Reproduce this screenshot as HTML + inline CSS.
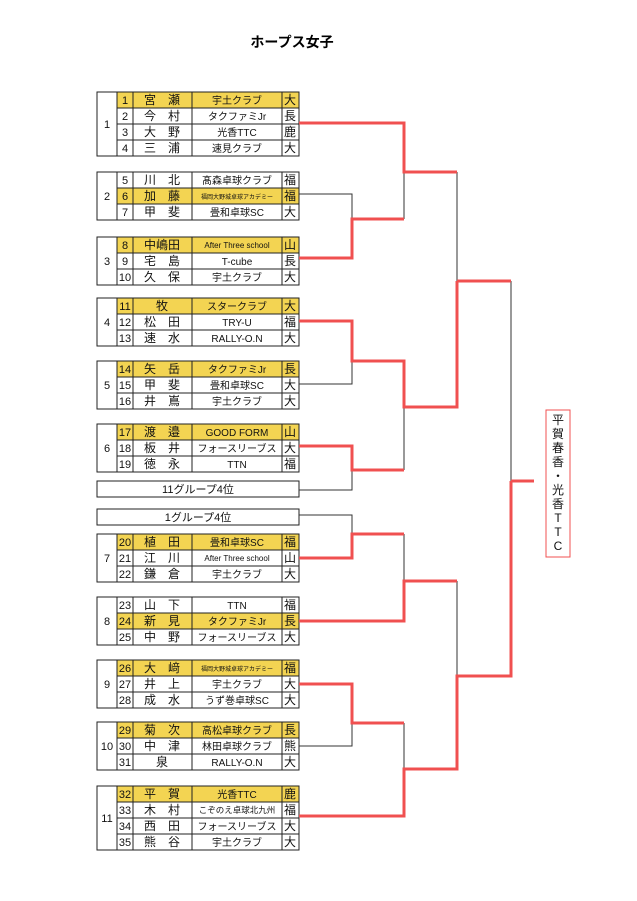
<!DOCTYPE html>
<html><head><meta charset="utf-8"><style>
html,body{margin:0;padding:0;background:#fff;}
svg{display:block;font-family:"Liberation Sans","Noto Sans CJK JP",sans-serif;}
</style></head><body>
<svg width="637" height="901" viewBox="0 0 637 901" xmlns="http://www.w3.org/2000/svg">
<rect width="637" height="901" fill="#fff"/>
<text x="292" y="47" font-size="14" font-weight="bold" text-anchor="middle">ホープス女子</text>
<g stroke="#222" stroke-width="1" font-size="11" fill="none">
<rect x="97" y="92" width="202" height="64"/>
<rect x="117" y="92" width="182" height="16" fill="#f3d452"/>
<line x1="117" y1="92" x2="117" y2="156"/><line x1="133" y1="92" x2="133" y2="156"/><line x1="192" y1="92" x2="192" y2="156"/><line x1="282" y1="92" x2="282" y2="156"/>
<line x1="117" y1="108" x2="299" y2="108"/><line x1="117" y1="124" x2="299" y2="124"/><line x1="117" y1="140" x2="299" y2="140"/>
<rect x="97" y="172" width="202" height="48"/>
<rect x="117" y="188" width="182" height="16" fill="#f3d452"/>
<line x1="117" y1="172" x2="117" y2="220"/><line x1="133" y1="172" x2="133" y2="220"/><line x1="192" y1="172" x2="192" y2="220"/><line x1="282" y1="172" x2="282" y2="220"/>
<line x1="117" y1="188" x2="299" y2="188"/><line x1="117" y1="204" x2="299" y2="204"/>
<rect x="97" y="237" width="202" height="48"/>
<rect x="117" y="237" width="182" height="16" fill="#f3d452"/>
<line x1="117" y1="237" x2="117" y2="285"/><line x1="133" y1="237" x2="133" y2="285"/><line x1="192" y1="237" x2="192" y2="285"/><line x1="282" y1="237" x2="282" y2="285"/>
<line x1="117" y1="253" x2="299" y2="253"/><line x1="117" y1="269" x2="299" y2="269"/>
<rect x="97" y="298" width="202" height="48"/>
<rect x="117" y="298" width="182" height="16" fill="#f3d452"/>
<line x1="117" y1="298" x2="117" y2="346"/><line x1="133" y1="298" x2="133" y2="346"/><line x1="192" y1="298" x2="192" y2="346"/><line x1="282" y1="298" x2="282" y2="346"/>
<line x1="117" y1="314" x2="299" y2="314"/><line x1="117" y1="330" x2="299" y2="330"/>
<rect x="97" y="361" width="202" height="48"/>
<rect x="117" y="361" width="182" height="16" fill="#f3d452"/>
<line x1="117" y1="361" x2="117" y2="409"/><line x1="133" y1="361" x2="133" y2="409"/><line x1="192" y1="361" x2="192" y2="409"/><line x1="282" y1="361" x2="282" y2="409"/>
<line x1="117" y1="377" x2="299" y2="377"/><line x1="117" y1="393" x2="299" y2="393"/>
<rect x="97" y="424" width="202" height="48"/>
<rect x="117" y="424" width="182" height="16" fill="#f3d452"/>
<line x1="117" y1="424" x2="117" y2="472"/><line x1="133" y1="424" x2="133" y2="472"/><line x1="192" y1="424" x2="192" y2="472"/><line x1="282" y1="424" x2="282" y2="472"/>
<line x1="117" y1="440" x2="299" y2="440"/><line x1="117" y1="456" x2="299" y2="456"/>
<rect x="97" y="481" width="202" height="16"/>
<rect x="97" y="509" width="202" height="16"/>
<rect x="97" y="534" width="202" height="48"/>
<rect x="117" y="534" width="182" height="16" fill="#f3d452"/>
<line x1="117" y1="534" x2="117" y2="582"/><line x1="133" y1="534" x2="133" y2="582"/><line x1="192" y1="534" x2="192" y2="582"/><line x1="282" y1="534" x2="282" y2="582"/>
<line x1="117" y1="550" x2="299" y2="550"/><line x1="117" y1="566" x2="299" y2="566"/>
<rect x="97" y="597" width="202" height="48"/>
<rect x="117" y="613" width="182" height="16" fill="#f3d452"/>
<line x1="117" y1="597" x2="117" y2="645"/><line x1="133" y1="597" x2="133" y2="645"/><line x1="192" y1="597" x2="192" y2="645"/><line x1="282" y1="597" x2="282" y2="645"/>
<line x1="117" y1="613" x2="299" y2="613"/><line x1="117" y1="629" x2="299" y2="629"/>
<rect x="97" y="660" width="202" height="48"/>
<rect x="117" y="660" width="182" height="16" fill="#f3d452"/>
<line x1="117" y1="660" x2="117" y2="708"/><line x1="133" y1="660" x2="133" y2="708"/><line x1="192" y1="660" x2="192" y2="708"/><line x1="282" y1="660" x2="282" y2="708"/>
<line x1="117" y1="676" x2="299" y2="676"/><line x1="117" y1="692" x2="299" y2="692"/>
<rect x="97" y="722" width="202" height="48"/>
<rect x="117" y="722" width="182" height="16" fill="#f3d452"/>
<line x1="117" y1="722" x2="117" y2="770"/><line x1="133" y1="722" x2="133" y2="770"/><line x1="192" y1="722" x2="192" y2="770"/><line x1="282" y1="722" x2="282" y2="770"/>
<line x1="117" y1="738" x2="299" y2="738"/><line x1="117" y1="754" x2="299" y2="754"/>
<rect x="97" y="786" width="202" height="64"/>
<rect x="117" y="786" width="182" height="16" fill="#f3d452"/>
<line x1="117" y1="786" x2="117" y2="850"/><line x1="133" y1="786" x2="133" y2="850"/><line x1="192" y1="786" x2="192" y2="850"/><line x1="282" y1="786" x2="282" y2="850"/>
<line x1="117" y1="802" x2="299" y2="802"/><line x1="117" y1="818" x2="299" y2="818"/><line x1="117" y1="834" x2="299" y2="834"/>
</g>

<g font-size="11" fill="#111" text-anchor="middle">
<text x="107" y="128">1</text><text x="107" y="200">2</text><text x="107" y="265">3</text><text x="107" y="326">4</text><text x="107" y="389">5</text><text x="107" y="452">6</text><text x="107" y="562">7</text><text x="107" y="625">8</text><text x="107" y="688">9</text><text x="107" y="750">10</text><text x="107" y="822">11</text>
<text x="198" y="493">11グループ4位</text>
<text x="198" y="521">1グループ4位</text>
</g>
<g font-size="11" fill="#111" text-anchor="middle">
<g>
<text x="125" y="104">1</text><text x="162" y="104" font-size="12">宮　瀬</text><text x="237" y="104" font-size="10">宇土クラブ</text><text x="290" y="104" font-size="12">大</text>
<text x="125" y="120">2</text><text x="162" y="120" font-size="12">今　村</text><text x="237" y="120" font-size="10">タクファミJr</text><text x="290" y="120" font-size="12">長</text>
<text x="125" y="136">3</text><text x="162" y="136" font-size="12">大　野</text><text x="237" y="136" font-size="10">光香TTC</text><text x="290" y="136" font-size="12">鹿</text>
<text x="125" y="152">4</text><text x="162" y="152" font-size="12">三　浦</text><text x="237" y="152" font-size="10">速見クラブ</text><text x="290" y="152" font-size="12">大</text>
</g>
<g>
<text x="125" y="184">5</text><text x="162" y="184" font-size="12">川　北</text><text x="237" y="184" font-size="10">髙森卓球クラブ</text><text x="290" y="184" font-size="12">福</text>
<text x="125" y="200">6</text><text x="162" y="200" font-size="12">加　藤</text><text x="237" y="199" font-size="6">福岡大野城卓球アカデミー</text><text x="290" y="200" font-size="12">福</text>
<text x="125" y="216">7</text><text x="162" y="216" font-size="12">甲　斐</text><text x="237" y="216" font-size="10">畳和卓球SC</text><text x="290" y="216" font-size="12">大</text>
</g>
<g>
<text x="125" y="249">8</text><text x="162" y="249" font-size="12">中嶋田</text><text x="237" y="248" font-size="8">After Three school</text><text x="290" y="249" font-size="12">山</text>
<text x="125" y="265">9</text><text x="162" y="265" font-size="12">宅　島</text><text x="237" y="265" font-size="10">T-cube</text><text x="290" y="265" font-size="12">長</text>
<text x="125" y="281">10</text><text x="162" y="281" font-size="12">久　保</text><text x="237" y="281" font-size="10">宇土クラブ</text><text x="290" y="281" font-size="12">大</text>
</g>
<g>
<text x="125" y="310">11</text><text x="162" y="310" font-size="12">牧</text><text x="237" y="310" font-size="10">スタークラブ</text><text x="290" y="310" font-size="12">大</text>
<text x="125" y="326">12</text><text x="162" y="326" font-size="12">松　田</text><text x="237" y="326" font-size="10">TRY-U</text><text x="290" y="326" font-size="12">福</text>
<text x="125" y="342">13</text><text x="162" y="342" font-size="12">速　水</text><text x="237" y="342" font-size="10">RALLY-O.N</text><text x="290" y="342" font-size="12">大</text>
</g>
<g>
<text x="125" y="373">14</text><text x="162" y="373" font-size="12">矢　岳</text><text x="237" y="373" font-size="10">タクファミJr</text><text x="290" y="373" font-size="12">長</text>
<text x="125" y="389">15</text><text x="162" y="389" font-size="12">甲　斐</text><text x="237" y="389" font-size="10">畳和卓球SC</text><text x="290" y="389" font-size="12">大</text>
<text x="125" y="405">16</text><text x="162" y="405" font-size="12">井　嶌</text><text x="237" y="405" font-size="10">宇土クラブ</text><text x="290" y="405" font-size="12">大</text>
</g>
<g>
<text x="125" y="436">17</text><text x="162" y="436" font-size="12">渡　邉</text><text x="237" y="436" font-size="10">GOOD FORM</text><text x="290" y="436" font-size="12">山</text>
<text x="125" y="452">18</text><text x="162" y="452" font-size="12">板　井</text><text x="237" y="452" font-size="10">フォースリーブス</text><text x="290" y="452" font-size="12">大</text>
<text x="125" y="468">19</text><text x="162" y="468" font-size="12">徳　永</text><text x="237" y="468" font-size="10">TTN</text><text x="290" y="468" font-size="12">福</text>
</g>
<g>
<text x="125" y="546">20</text><text x="162" y="546" font-size="12">植　田</text><text x="237" y="546" font-size="10">畳和卓球SC</text><text x="290" y="546" font-size="12">福</text>
<text x="125" y="562">21</text><text x="162" y="562" font-size="12">江　川</text><text x="237" y="561" font-size="8">After Three school</text><text x="290" y="562" font-size="12">山</text>
<text x="125" y="578">22</text><text x="162" y="578" font-size="12">鎌　倉</text><text x="237" y="578" font-size="10">宇土クラブ</text><text x="290" y="578" font-size="12">大</text>
</g>
<g>
<text x="125" y="609">23</text><text x="162" y="609" font-size="12">山　下</text><text x="237" y="609" font-size="10">TTN</text><text x="290" y="609" font-size="12">福</text>
<text x="125" y="625">24</text><text x="162" y="625" font-size="12">新　見</text><text x="237" y="625" font-size="10">タクファミJr</text><text x="290" y="625" font-size="12">長</text>
<text x="125" y="641">25</text><text x="162" y="641" font-size="12">中　野</text><text x="237" y="641" font-size="10">フォースリーブス</text><text x="290" y="641" font-size="12">大</text>
</g>
<g>
<text x="125" y="672">26</text><text x="162" y="672" font-size="12">大　﨑</text><text x="237" y="671" font-size="6">福岡大野城卓球アカデミー</text><text x="290" y="672" font-size="12">福</text>
<text x="125" y="688">27</text><text x="162" y="688" font-size="12">井　上</text><text x="237" y="688" font-size="10">宇土クラブ</text><text x="290" y="688" font-size="12">大</text>
<text x="125" y="704">28</text><text x="162" y="704" font-size="12">成　水</text><text x="237" y="704" font-size="10">うず巻卓球SC</text><text x="290" y="704" font-size="12">大</text>
</g>
<g>
<text x="125" y="734">29</text><text x="162" y="734" font-size="12">菊　次</text><text x="237" y="734" font-size="10">高松卓球クラブ</text><text x="290" y="734" font-size="12">長</text>
<text x="125" y="750">30</text><text x="162" y="750" font-size="12">中　津</text><text x="237" y="750" font-size="10">林田卓球クラブ</text><text x="290" y="750" font-size="12">熊</text>
<text x="125" y="766">31</text><text x="162" y="766" font-size="12">泉</text><text x="237" y="766" font-size="10">RALLY-O.N</text><text x="290" y="766" font-size="12">大</text>
</g>
<g>
<text x="125" y="798">32</text><text x="162" y="798" font-size="12">平　賀</text><text x="237" y="798" font-size="10">光香TTC</text><text x="290" y="798" font-size="12">鹿</text>
<text x="125" y="814">33</text><text x="162" y="814" font-size="12">木　村</text><text x="237" y="813" font-size="8.5">こぞのえ卓球北九州</text><text x="290" y="814" font-size="12">福</text>
<text x="125" y="830">34</text><text x="162" y="830" font-size="12">西　田</text><text x="237" y="830" font-size="10">フォースリーブス</text><text x="290" y="830" font-size="12">大</text>
<text x="125" y="846">35</text><text x="162" y="846" font-size="12">熊　谷</text><text x="237" y="846" font-size="10">宇土クラブ</text><text x="290" y="846" font-size="12">大</text>
</g>
</g>

<g stroke="#333" stroke-width="1" fill="none">
<polyline points="404,172 404,219"/>
<polyline points="299,194 352,194 352,219"/>
<polyline points="457,172 457,281"/>
<polyline points="299,384 352,384 352,361"/>
<polyline points="404,407 404,470"/>
<polyline points="299,490 352,490 352,470"/>
<polyline points="299,515 352,515 352,534"/>
<polyline points="404,534 404,581"/>
<polyline points="457,581 457,676"/>
<polyline points="299,746 352,746 352,723"/>
<polyline points="404,723 404,769"/>
<polyline points="511,281 511,481"/>
</g>
<g stroke="#f05050" stroke-width="3" fill="none">
<polyline points="299,123 404,123 404,172 457,172"/>
<polyline points="299,258 352,258 352,219 404,219"/>
<polyline points="457,281 511,281"/>
<polyline points="457,281 457,407 404,407 404,361 352,361 352,321 299,321"/>
<polyline points="299,446 352,446 352,470 404,470"/>
<polyline points="299,558 352,558 352,534 404,534"/>
<polyline points="299,621 404,621 404,581 457,581"/>
<polyline points="511,481 534,481"/>
<polyline points="511,481 511,676 457,676 457,769 404,769 404,816 299,816"/>
<polyline points="299,684 352,684 352,723 404,723"/>
</g>
<rect x="546" y="410" width="24" height="147" fill="#fff" stroke="#f05050" stroke-width="1"/>
<g font-size="12" fill="#111" text-anchor="middle">
<text x="558" y="424">平</text><text x="558" y="438">賀</text><text x="558" y="452">春</text><text x="558" y="466">香</text><text x="558" y="480">・</text><text x="558" y="494">光</text><text x="558" y="508">香</text><text x="558" y="522">T</text><text x="558" y="536">T</text><text x="558" y="550">C</text>
</g>
</svg>
</body></html>
